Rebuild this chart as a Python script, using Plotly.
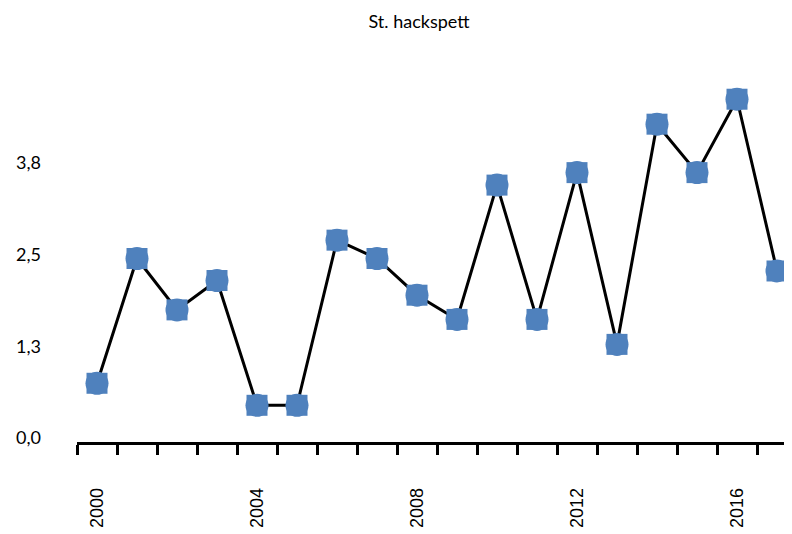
import plotly.graph_objects as go

years = list(range(2000, 2018))
values = [0.8, 2.5, 1.8, 2.2, 0.5, 0.5, 2.75, 2.5, 2.0, 1.67, 3.5, 1.67,
          3.67, 1.33, 4.33, 3.67, 4.67, 2.33]
y_tickvals = [0, 1.25, 2.5, 3.75]
y_ticktext = ["0,0", "1,3", "2,5", "3,8"]
x_labelvals = [2000, 2004, 2008, 2012, 2016]
title_text = "St. hackspett"

blue = "#4F81BD"

W, H = 784, 526  # page body has an 8px margin

fig = go.Figure()
fig.add_trace(go.Scatter(
    x=years, y=values, mode="lines+markers",
    line=dict(color="black", width=3),
    marker=dict(symbol="square", size=21, color=blue, line=dict(width=0)),
    showlegend=False, hoverinfo="x+y", cliponaxis=False,
))
fig.add_trace(go.Scatter(
    x=years, y=values, mode="markers",
    marker=dict(symbol="circle", size=23, color=blue, line=dict(width=0)),
    showlegend=False, hoverinfo="skip", cliponaxis=False,
))

fig.update_layout(
    width=W, height=H,
    margin=dict(l=69, r=0, t=67, b=92, pad=0, autoexpand=False),
    paper_bgcolor="white", plot_bgcolor="white",
    title=dict(text=title_text, x=411/W, xanchor="center", xref="container",
               y=1 - 14/H, yanchor="middle", yref="container",
               font=dict(family="Lato", size=18, color="#000000")),
    xaxis=dict(
        range=[1999.5, 2017.375], showgrid=False, zeroline=False, automargin=False,
        showline=True, linecolor="black", linewidth=2.5,
        tickmode="array", tickvals=x_labelvals, ticktext=[str(v) for v in x_labelvals],
        ticks="", tickangle=-90, ticklabelstandoff=36,
        tickfont=dict(family="Liberation Sans", size=18, color="black"),
        minor=dict(tick0=1999.5, dtick=1, ticks="outside", ticklen=10,
                   tickwidth=2.5, tickcolor="black", showgrid=False),
    ),
    yaxis=dict(
        range=[0, 5], showgrid=False, zeroline=False, showline=False, automargin=False,
        tickmode="array", tickvals=y_tickvals, ticktext=y_ticktext,
        ticks="", ticklabelstandoff=35, ticklabelshift=-4,
        tickfont=dict(family="Lato", size=18, color="black"),
    ),
)

fig.write_html("out.html")
